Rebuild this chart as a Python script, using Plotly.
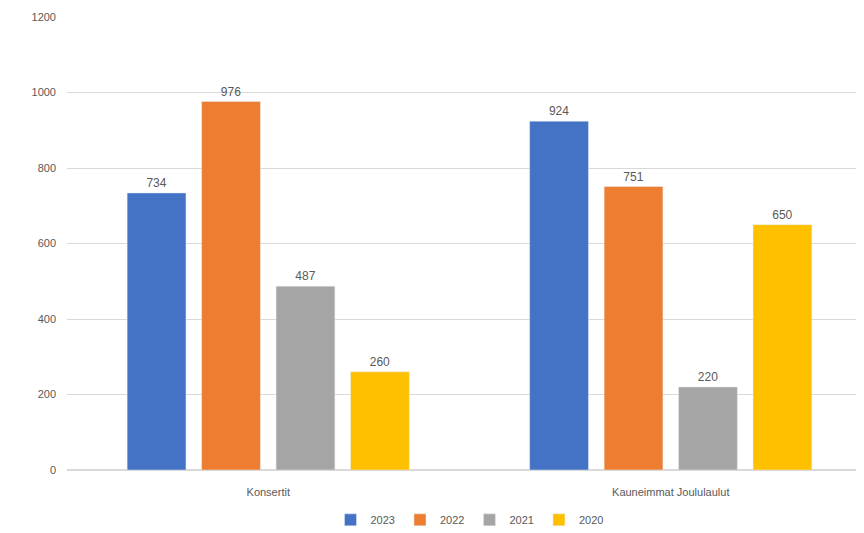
import plotly.graph_objects as go

categories = ["Konsertit", "Kauneimmat Joululaulut"]
years = ["2023", "2022", "2021", "2020"]
values_2023 = [734, 924]
values_2022 = [976, 751]
values_2021 = [487, 220]
values_2020 = [260, 650]
colors = ["#4472C4", "#ED7D31", "#A5A5A5", "#FFC000"]
series = [values_2023, values_2022, values_2021, values_2020]

fig = go.Figure()
for name, vals, col in zip(years, series, colors):
    fig.add_trace(go.Bar(
        x=categories, y=vals, name=name, marker_color=col,
        text=[str(v) for v in vals], textposition="outside",
        textfont=dict(size=12, color="#595959"), cliponaxis=False,
    ))

fig.update_layout(
    width=864, height=533,
    margin=dict(l=59, r=0, t=9, b=71),
    paper_bgcolor="white", plot_bgcolor="white",
    font=dict(family="Liberation Sans", size=11, color="#595959"),
    barmode="group", bargap=0.26, bargroupgap=0.21,
    showlegend=True,
    legend=dict(orientation="h", x=0.5, xanchor="center", y=-0.11, yanchor="middle",
                font=dict(size=11, color="#595959"), itemwidth=30,
                traceorder="normal"),
    xaxis=dict(showgrid=False, showline=False, ticks="", ticklabelstandoff=14,
               tickfont=dict(size=11, color="#595959")),
    yaxis=dict(range=[0, 1200], dtick=200, showgrid=True, gridcolor="#D9D9D9",
               zeroline=True, zerolinecolor="#D9D9D9", ticks="", ticklabelstandoff=10,
               tickfont=dict(size=11, color="#595959")),
)
fig.write_html("out.html")
